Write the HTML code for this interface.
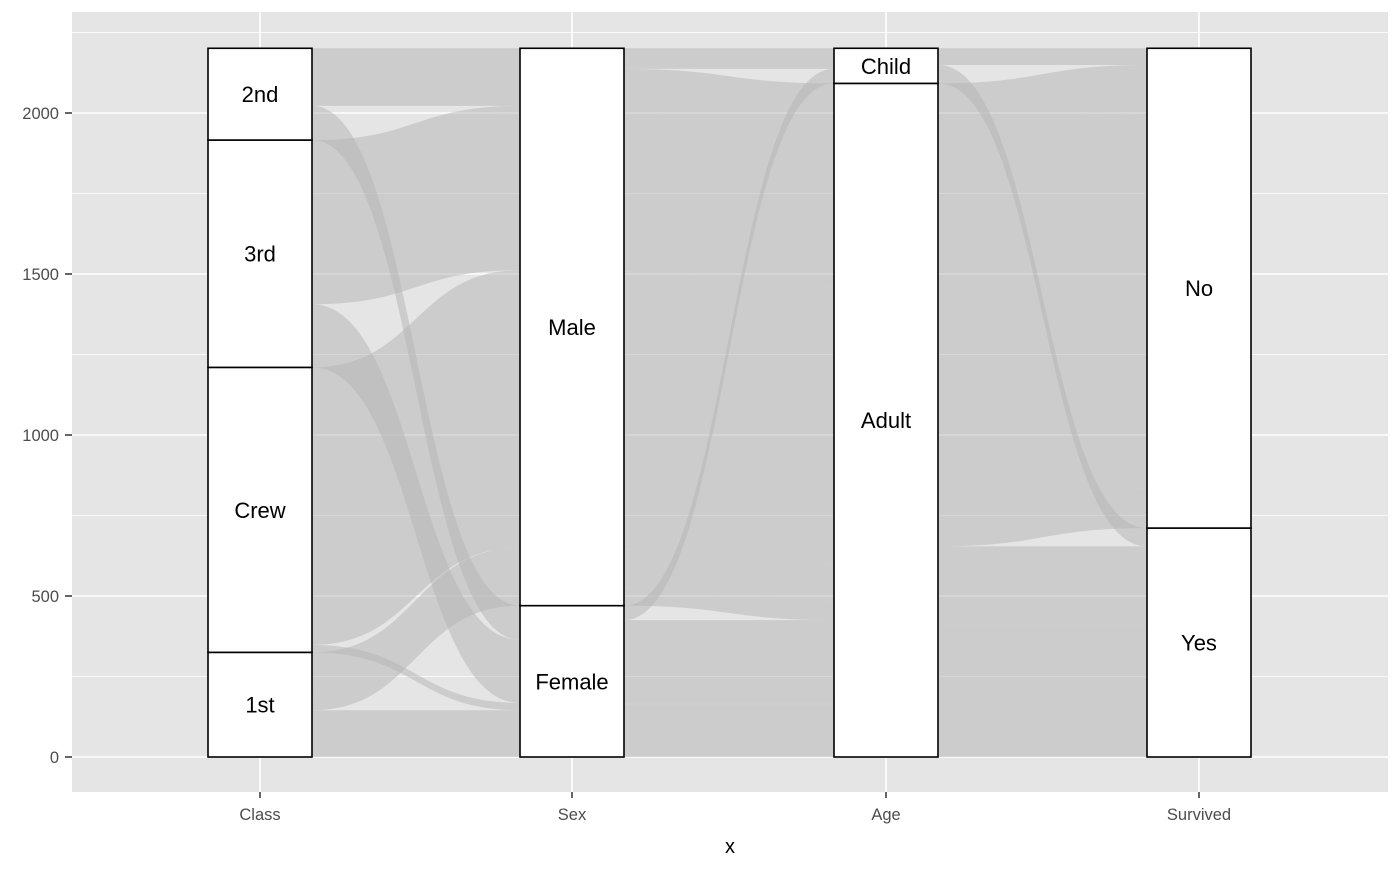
<!DOCTYPE html>
<html><head><meta charset="utf-8"><style>
body{margin:0;background:#fff;font-family:"Liberation Sans",Arial,sans-serif}
svg text{font-family:"Liberation Sans",Arial,sans-serif}
</style></head><body>
<svg id="chart" width="1400" height="865" xmlns="http://www.w3.org/2000/svg"></svg>
<script>
const axesNames=["Class","Sex","Age","Survived"];
const strataOrder=[["1st","Crew","3rd","2nd"],["Female","Male"],["Adult","Child"],["Yes","No"]];
const yTicks=[0,500,1000,1500,2000];
const alluvia=[
["1st","Male","Child","No",0],["1st","Male","Child","Yes",5],["1st","Male","Adult","No",118],["1st","Male","Adult","Yes",57],
["2nd","Male","Child","No",0],["2nd","Male","Child","Yes",11],["2nd","Male","Adult","No",154],["2nd","Male","Adult","Yes",14],
["3rd","Male","Child","No",35],["3rd","Male","Child","Yes",13],["3rd","Male","Adult","No",387],["3rd","Male","Adult","Yes",75],
["Crew","Male","Adult","No",670],["Crew","Male","Adult","Yes",192],
["1st","Female","Child","Yes",1],["1st","Female","Adult","No",4],["1st","Female","Adult","Yes",140],
["2nd","Female","Child","Yes",13],["2nd","Female","Adult","No",13],["2nd","Female","Adult","Yes",80],
["3rd","Female","Child","No",17],["3rd","Female","Child","Yes",14],["3rd","Female","Adult","No",89],["3rd","Female","Adult","Yes",76],
["Crew","Female","Adult","No",3],["Crew","Female","Adult","Yes",20]
].filter(a=>a[4]>0);
const NS="http://www.w3.org/2000/svg";
const svg=document.getElementById('chart');
function el(t,a,p){const e=document.createElementNS(NS,t);for(const k in a)e.setAttribute(k,a[k]);(p||svg).appendChild(e);return e;}
const px0=72,px1=1388,py0=12,py1=792;
const y=v=>757-v*(644/2000);
const xPos=[260,572,886,1199];
const bw=104;
const bg=el('rect',{x:px0,y:py0,width:px1-px0,height:py1-py0,fill:'#e5e5e5'});


for(let v=250;v<2300;v+=500){const l=el('line',{x1:px0,x2:px1,y1:y(v),y2:y(v),stroke:'#fff','stroke-width':0.8});

}
yTicks.forEach(v=>{const l=el('line',{x1:px0,x2:px1,y1:y(v),y2:y(v),stroke:'#fff','stroke-width':1.6});


const t=el('text',{x:59,y:y(v)+6,'text-anchor':'end','font-size':16.5,fill:'#4d4d4d'});t.textContent=v;


el('line',{x1:65,x2:px0,y1:y(v),y2:y(v),stroke:'#333','stroke-width':1.5});});
xPos.forEach((x,i)=>{const l=el('line',{x1:x,x2:x,y1:py0,y2:py1,stroke:'#fff','stroke-width':1.6});


el('line',{x1:x,x2:x,y1:py1,y2:py1+6,stroke:'#333','stroke-width':1.5});
const t=el('text',{x:x,y:820,'text-anchor':'middle','font-size':16.5,fill:'#4d4d4d'});t.textContent=axesNames[i];

});
const xt=el('text',{x:730,y:853,'text-anchor':'middle','font-size':20,fill:'#000'});xt.textContent='x';


const totals=strataOrder.map((s,i)=>s.map(st=>alluvia.filter(a=>a[i]===st).reduce((p,a)=>p+a[4],0)));
const bases=totals.map(t=>{let c=0;return t.map(v=>{const b=c;c+=v;return b;});});
const idx=(i,a)=>strataOrder[i].indexOf(a[i]);
for(let i=0;i<3;i++){
 const j=i+1;
 const keyL=a=>[idx(i,a),idx(j,a),...[0,1,2,3].filter(k=>k!==i&&k!==j).map(k=>idx(k,a))];
 const keyR=a=>[idx(j,a),idx(i,a),...[0,1,2,3].filter(k=>k!==i&&k!==j).map(k=>idx(k,a))];
 const cmp=f=>(p,q)=>{const A=f(p),B=f(q);for(let k=0;k<A.length;k++)if(A[k]!==B[k])return A[k]-B[k];return 0;};
 const L=new Map(),R=new Map();
 let cur=strataOrder[i].map((s,k)=>bases[i][k]);
 [...alluvia].sort(cmp(keyL)).forEach(a=>{const k=idx(i,a);L.set(a,cur[k]);cur[k]+=a[4];});
 cur=strataOrder[j].map((s,k)=>bases[j][k]);
 [...alluvia].sort(cmp(keyR)).forEach(a=>{const k=idx(j,a);R.set(a,cur[k]);cur[k]+=a[4];});
 const x0=xPos[i]+bw/2,x1=xPos[j]-bw/2,xm=(x0+x1)/2;
 alluvia.forEach(a=>{
  const l0=y(L.get(a)),l1=y(L.get(a)+a[4]),r0=y(R.get(a)),r1=y(R.get(a)+a[4]);
  const d=`M${x0},${l1} C${xm},${l1} ${xm},${r1} ${x1},${r1} L${x1},${r0} C${xm},${r0} ${xm},${l0} ${x0},${l0} Z`;
  const p=el('path',{d,fill:'#b3b3b3','fill-opacity':0.5});
  
  
 });
}
strataOrder.forEach((s,i)=>s.forEach((st,k)=>{
 const b=bases[i][k],t=totals[i][k];
 const r=el('rect',{x:xPos[i]-bw/2,y:y(b+t),width:bw,height:y(b)-y(b+t),fill:'#fff',stroke:'#000','stroke-width':1.6});
 
 
 const tx=el('text',{x:xPos[i],y:y(b+t/2)+8,'text-anchor':'middle','font-size':22,fill:'#000'});tx.textContent=st;
 
 
}));
</script>
</body></html>
